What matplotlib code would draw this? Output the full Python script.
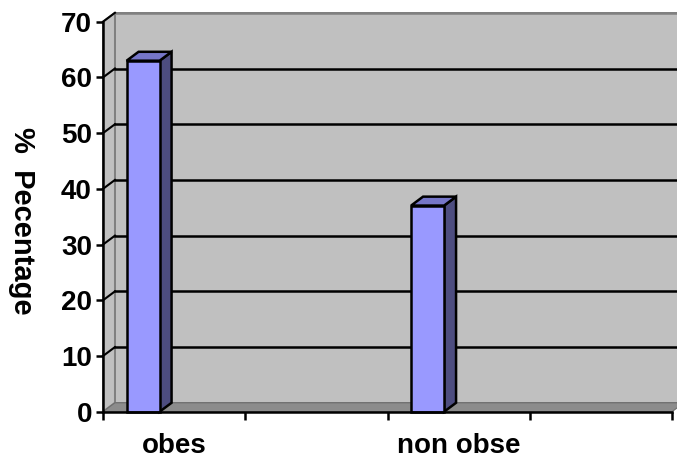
import matplotlib
matplotlib.use("Agg")
import matplotlib.pyplot as plt
from matplotlib.patches import Polygon, Rectangle

# ---- data ----
categories = ["obes", "non obse"]
values = [63, 37]
yticks = [0, 10, 20, 30, 40, 50, 60, 70]
ylabel = "%  Pecentage"

# ---- style ----
FONT = "Liberation Sans"
WALL = "#C0C0C0"
FLOOR = "#8C8C8C"
BAR_FRONT = "#9999FF"
BAR_TOP = "#7676C8"
BAR_SIDE = "#4D4D80"
n_slots = 4
slot_of = [0, 2]          # category slot positions on the axis
bar_off, bar_w = 0.166, 0.232
dx, dy = 0.084, 1.6       # depth offset in data units

fig = plt.figure(figsize=(6.77, 4.59), dpi=100)
ax = fig.add_axes([103/677, 1-411.7/459, (672-103)/677, (411.7-21.7)/459])
ax.set_xlim(0, n_slots)
ax.set_ylim(0, 70)
ax.set_facecolor("none")
for s in ax.spines.values():
    s.set_visible(False)

# back wall
ax.add_patch(Polygon([(dx, dy), (n_slots+dx, dy), (n_slots+dx, 70+dy), (dx, 70+dy)],
                     closed=True, facecolor=WALL, edgecolor="#808080", lw=1.4,
                     clip_on=False, zorder=1))
# side wall
ax.add_patch(Polygon([(0, 0), (dx, dy), (dx, 70+dy), (0, 70)], closed=True,
                     facecolor=WALL, edgecolor="#808080", lw=1.4, clip_on=False, zorder=1))
# gridlines
for v in yticks[1:]:
    c = "black" if v < 70 else "#808080"
    ax.plot([dx, n_slots+dx], [v+dy, v+dy], color=c, lw=1.8, clip_on=False, zorder=2)
    ax.plot([0, dx], [v, v+dy], color="black", lw=1.5, clip_on=False, zorder=2)
# floor
ax.add_patch(Polygon([(0, 0), (n_slots, 0), (n_slots+dx, dy), (dx, dy)], closed=True,
                     facecolor=FLOOR, edgecolor="#6E6E6E", lw=0.8, clip_on=False, zorder=3))

# bars
for slot, v in zip(slot_of, values):
    x0 = slot + bar_off
    x1 = x0 + bar_w
    ax.add_patch(Polygon([(x1, 0), (x1+dx, dy), (x1+dx, v+dy), (x1, v)], closed=True,
                         facecolor=BAR_SIDE, edgecolor="black", lw=1.8, clip_on=False, zorder=5))
    ax.add_patch(Polygon([(x0, v), (x1, v), (x1+dx, v+dy), (x0+dx, v+dy)], closed=True,
                         facecolor=BAR_TOP, edgecolor="black", lw=1.8, clip_on=False, zorder=5))
    ax.add_patch(Rectangle((x0, 0), bar_w, v, facecolor=BAR_FRONT, edgecolor="black",
                           lw=1.8, clip_on=False, zorder=6))

# axes lines
ax.plot([0, 0], [0, 70], color="black", lw=1.8, clip_on=False, zorder=7)
ax.plot([0, n_slots], [0, 0], color="black", lw=1.8, clip_on=False, zorder=7)

# ticks
ax.set_yticks(yticks)
ax.set_yticklabels([str(t) for t in yticks], fontfamily=FONT, fontweight="bold", fontsize=20)
ax.tick_params(axis="y", direction="out", length=5, width=1.8, pad=3)
ax.set_xticks(range(n_slots+1))
ax.set_xticklabels([])
ax.tick_params(axis="x", which="major", direction="out", length=6, width=1.8)
ax.set_xticks([s + 0.5 for s in slot_of], minor=True)
ax.set_xticklabels(categories, minor=True, fontfamily=FONT, fontweight="bold", fontsize=20)
ax.tick_params(axis="x", which="minor", length=0, pad=15.5)

fig.text(22/677, 1-221/459, ylabel, rotation=270, ha="center", va="center",
         fontfamily=FONT, fontweight="bold", fontsize=21)

fig.savefig("out.png", dpi=100)
